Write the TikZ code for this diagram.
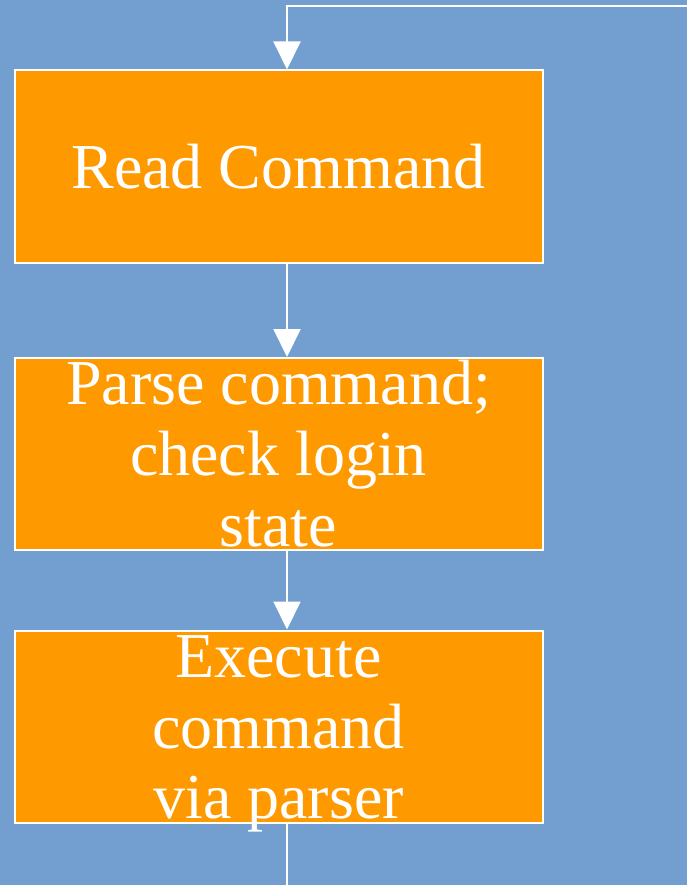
\documentclass[tikz,border=0pt]{standalone}
\usepackage{fontspec}
\setmainfont{Liberation Serif}
\usetikzlibrary{arrows.meta}
\definecolor{skyblue}{HTML}{729FCF}
\definecolor{boxorange}{HTML}{FF9900}
\newcommand{\linestrut}{\rule[-13.8pt]{0pt}{70.8pt}}

\begin{document}
\begin{tikzpicture}[x=1pt,y=-1pt,>={Triangle[length=28pt,width=27pt]},line width=2pt,
	stepbox/.style={draw=white,fill=boxorange,minimum width=528pt,minimum height=192pt,inner sep=0pt},
	boxtext/.style={text=white,align=center,inner sep=0pt,font=\fontsize{64pt}{70.8pt}\selectfont}]
	\fill[skyblue] (0,0) rectangle (687,885);
	\useasboundingbox (0,0) rectangle (687,885);
	\coordinate (back) at (687,6);
	\coordinate (corner) at (287,6);
	\coordinate (out) at (287,885);
	\node[stepbox] (read) at (278.5,166.5) {};
	\node[stepbox] (parse) at (278.5,454) {};
	\node[stepbox] (exec) at (278.5,726.5) {};
	\node[boxtext] (readtxt) at (read) {\linestrut Read Command};
	\node[boxtext] (parsetxt) at (parse) {\linestrut Parse command;\\\linestrut check login\\\linestrut state};
	\node[boxtext] (exectxt) at (exec) {\linestrut Execute\\\linestrut command\\\linestrut via parser};
	\draw[white,->] (back) -- (corner) -- (read.north -| corner);
	\draw[white,->] (read.south -| corner) -- (parse.north -| corner);
	\draw[white,->] (parse.south -| corner) -- (exec.north -| corner);
	\draw[white] (exec.south -| corner) -- (out);
\end{tikzpicture}
\end{document}
